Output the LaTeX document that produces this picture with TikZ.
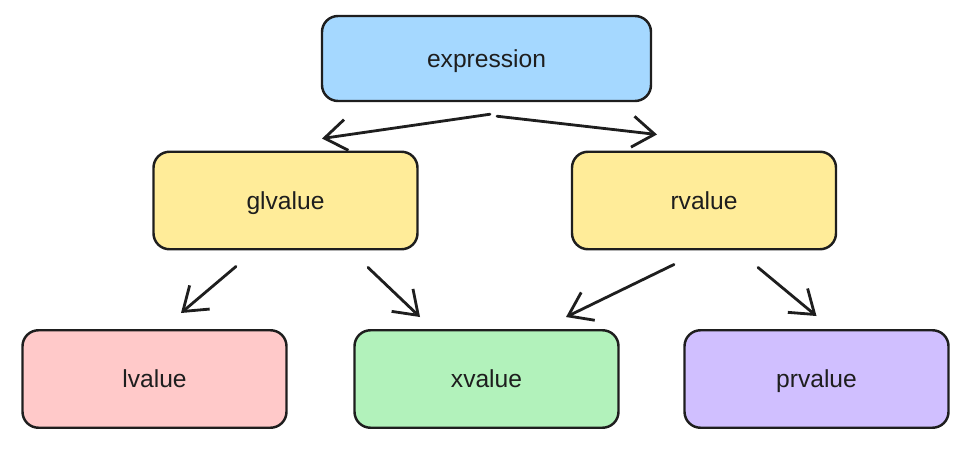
\documentclass[tikz,border=0pt]{standalone}
\usepackage{fontspec}
\setmainfont{Liberation Sans}
\usetikzlibrary{arrows.meta}
\definecolor{inkcol}{HTML}{1E1E1E}
\definecolor{bluefill}{HTML}{A5D8FF}
\definecolor{yellowfill}{HTML}{FFEC99}
\definecolor{redfill}{HTML}{FFC9C9}
\definecolor{greenfill}{HTML}{B2F2BB}
\definecolor{violetfill}{HTML}{D0BFFF}
\tikzset{
	catbox/.style={draw=inkcol, line width=1.4pt, rounded corners=0.32cm, inner sep=0pt,
		minimum width=5.28cm, minimum height=1.95cm, text height=1.9ex, text depth=0pt,
		font=\fontsize{14}{16}\selectfont, text=inkcol},
	catarrow/.style={draw=inkcol, line width=1.6pt, line cap=round,
		-{Straight Barb[length=0.44cm, width=0.62cm, line width=1.6pt]}}
}

\begin{document}
\begin{tikzpicture}
			%%%%% START %%%%%
			\useasboundingbox (0, 0) rectangle (19.52, 9.04);
			
			\node[catbox, fill=bluefill, minimum width=6.58cm, minimum height=1.70cm] (expression) at (9.73, 7.87) {expression};
			
			\node[catbox, fill=yellowfill] (glvalue) at (5.71, 5.03) {glvalue};
			\node[catbox, fill=yellowfill] (rvalue) at (14.08, 5.03) {rvalue};
			
			\node[catbox, fill=redfill] (lvalue) at (3.09, 1.46) {lvalue};
			\node[catbox, fill=greenfill] (xvalue) at (9.73, 1.46) {xvalue};
			\node[catbox, fill=violetfill] (prvalue) at (16.33, 1.46) {prvalue};
			
			\draw[catarrow] ([shift={(0.07, -0.24)}]expression.south) -- ([shift={(0.73, 0.24)}]glvalue.north);
			\draw[catarrow] ([shift={(0.21, -0.28)}]expression.south) -- ([shift={(-0.94, 0.32)}]rvalue.north);
			
			\draw[catarrow] ([shift={(-0.99, -0.32)}]glvalue.south) -- ([shift={(0.53, 0.32)}]lvalue.north);
			\draw[catarrow] ([shift={(1.65, -0.34)}]glvalue.south) -- ([shift={(-1.33, 0.24)}]xvalue.north);
			
			\draw[catarrow] ([shift={(-0.60, -0.28)}]rvalue.south) -- ([shift={(1.59, 0.24)}]xvalue.north);
			\draw[catarrow] ([shift={(1.08, -0.34)}]rvalue.south) -- ([shift={(0, 0.26)}]prvalue.north);
			
			%%%%% END %%%%%
		\end{tikzpicture}
\end{document}
